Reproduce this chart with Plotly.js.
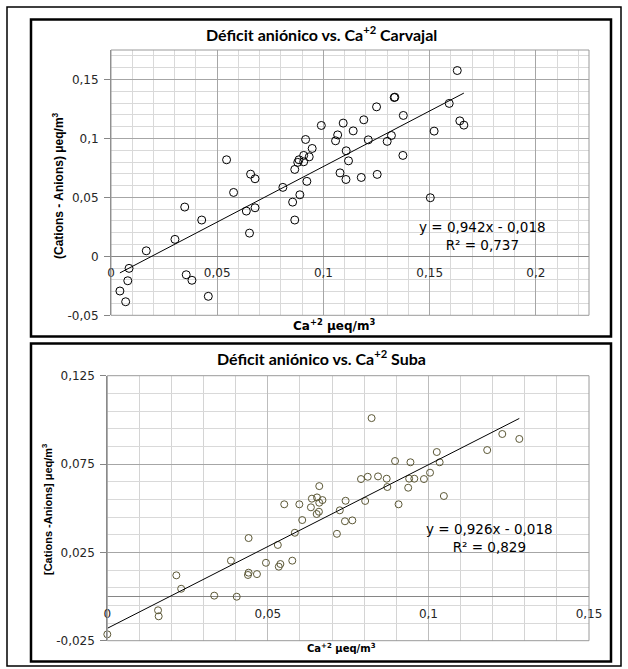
<!DOCTYPE html>
<html>
<head>
<meta charset="utf-8">
<script src="https://cdn.plot.ly/plotly-3.0.1.min.js"></script>
<style>
html,body{margin:0;padding:0;background:#fff;}
#chart{width:628px;height:669px;}
</style>
</head>
<body>
<div id="chart"></div>
<script>
// ---------- DATA: Carvajal ----------
const caCarvajal = [
  0.0544,0.0657,0.0678,0.0577,0.0809,0.0865,0.0855,0.0865,0.0347,0.0427,
  0.0637,0.0678,0.0652,0.0301,0.0166,0.0085,0.0079,0.0042,0.0069,0.0354,
  0.0381,0.0458,
  0.1630,0.1333,0.1336,0.1250,0.1592,0.1376,0.1190,0.1093,0.0990,0.1140,
  0.1067,0.1057,0.0916,0.1211,0.1320,0.1300,0.1642,0.1661,0.1521,0.0947,
  0.0907,0.0933,0.0885,0.0907,0.0879,0.1107,0.1118,0.1374,0.1078,0.1106,
  0.1178,0.1253,0.0922,0.0889,0.1503
];
const defCarvajal = [
  0.0819,0.0697,0.0658,0.0542,0.0585,0.0737,0.0460,0.0308,0.0418,0.0308,
  0.0384,0.0412,0.0197,0.0144,0.0047,-0.0102,-0.0207,-0.0294,-0.0385,-0.0156,
  -0.0203,-0.0339,
  0.1576,0.1347,0.1350,0.1268,0.1297,0.1195,0.1158,0.1130,0.1110,0.1064,
  0.1030,0.0980,0.0991,0.0988,0.1025,0.0975,0.1149,0.1113,0.1062,0.0915,
  0.0856,0.0844,0.0819,0.0802,0.0797,0.0895,0.0810,0.0856,0.0708,0.0652,
  0.0669,0.0695,0.0636,0.0522,0.0497
];
// ---------- DATA: Suba ----------
const caSuba = [
  0.0000,0.0158,0.0160,0.0215,0.0230,0.0333,0.0403,0.0385,0.0440,0.0440,
  0.0438,0.0466,0.0494,0.0531,0.0539,0.0534,0.0576,0.0584,0.0551,0.0598,
  0.0607,
  0.0823,0.1230,0.1183,0.1283,0.1026,0.1035,0.1048,0.0896,0.0944,0.1005,
  0.0986,0.0956,0.0940,0.0937,0.0907,0.0870,0.0872,0.0843,0.0811,0.0790,
  0.0803,0.0742,0.0724,0.0740,0.0763,0.0715,0.0660,0.0637,0.0653,0.0670,
  0.0660,0.0634,0.0659,0.0652
];
const defSuba = [
  -0.0214,-0.0078,-0.0112,0.0120,0.0044,0.0005,-0.0001,0.0203,0.0331,0.0135,
  0.0122,0.0127,0.0191,0.0292,0.0184,0.0169,0.0203,0.0361,0.0522,0.0522,
  0.0433,
  0.1010,0.0920,0.0829,0.0892,0.0818,0.0760,0.0569,0.0767,0.0760,0.0701,
  0.0665,0.0667,0.0667,0.0616,0.0522,0.0667,0.0620,0.0680,0.0678,0.0665,
  0.0541,0.0542,0.0488,0.0426,0.0431,0.0355,0.0625,0.0554,0.0561,0.0546,
  0.0531,0.0505,0.0480,0.0467
];
// ---------- trend lines (as printed on the chart) ----------
const slopeCarvajal = 0.942, interceptCarvajal = -0.018;
const slopeSuba = 0.926, interceptSuba = -0.018;
const eqCarvajal = "y = 0,942x - 0,018", r2Carvajal = "R² = 0,737";
const eqSuba = "y = 0,926x - 0,018", r2Suba = "R² = 0,829";
// ---------- titles & ticks ----------
const title1 = "Déficit aniónico vs. Ca<sup>+2</sup> Carvajal";
const title2 = "Déficit aniónico vs. Ca<sup>+2</sup> Suba";
const xTitle = "Ca<sup>+2</sup> μeq/m<sup>3</sup>";
const yTitle1 = "(Cations - Anions) μeq/m<sup>3</sup>";
const yTitle2 = "[Cations -Anions] μeq/m<sup>3</sup>";
const xTickVals1 = [0, 0.05, 0.1, 0.15, 0.2];
const xTickText1 = ["0", "0,05", "0,1", "0,15", "0,2"];
const yTickVals1 = [-0.05, 0, 0.05, 0.1, 0.15];
const yTickText1 = ["-0,05", "0", "0,05", "0,1", "0,15"];
const xTickVals2 = [0, 0.05, 0.1, 0.15];
const xTickText2 = ["0", "0,05", "0,1", "0,15"];
const yTickVals2 = [-0.025, 0.025, 0.075, 0.125];
const yTickText2 = ["-0,025", "0,025", "0,075", "0,125"];

// ---------- layout helpers ----------
const W = 628, H = 669;
const fx = p => p / W;
const fy = p => 1 - p / H;
const P1 = {l: 111, r: 589, t: 50, b: 315.3};
const P2 = {l: 107.3, r: 589, t: 375.7, b: 640.7};
const xr1 = [0, 0.225], yr1 = [-0.05, 0.175];
const xr2 = [0, 0.15], yr2 = [-0.025, 0.125];
const zeroPos = (P, yr) => {
  const d0 = fy(P.b), d1 = fy(P.t);
  return d0 + (0 - yr[0]) / (yr[1] - yr[0]) * (d1 - d0);
};
const tickFont = {family: "DejaVu Sans, Verdana, sans-serif", size: 12, color: "#262626"};

function trend(xs, m, b) {
  const lo = Math.min(...xs), hi = Math.max(...xs);
  return {x: [lo, hi], y: [m * lo + b, m * hi + b]};
}
const t1 = trend(caCarvajal, slopeCarvajal, interceptCarvajal);
const t2 = trend(caSuba, slopeSuba, interceptSuba);

const traces = [
  {x: caCarvajal, y: defCarvajal, type: "scatter", mode: "markers", xaxis: "x", yaxis: "y",
   cliponaxis: false,
   marker: {symbol: "circle-open", size: 8, color: "#000", line: {width: 1, color: "#000"}}},
  {x: t1.x, y: t1.y, type: "scatter", mode: "lines", xaxis: "x", yaxis: "y",
   line: {color: "#000", width: 1}},
  {x: caSuba, y: defSuba, type: "scatter", mode: "markers", xaxis: "x2", yaxis: "y2",
   cliponaxis: false,
   marker: {symbol: "circle-open", size: 7, color: "#5c5836", line: {width: 1, color: "#5c5836"}}},
  {x: t2.x, y: t2.y, type: "scatter", mode: "lines", xaxis: "x2", yaxis: "y2",
   line: {color: "#000", width: 1}}
];

function xAxis(P, xr, yr, vals, txt, majorColor, minorColor) {
  return {
    domain: [fx(P.l), fx(P.r)], range: xr, anchor: "free", position: zeroPos(P, yr),
    tickmode: "array", tickvals: vals, ticktext: txt, ticks: "", showline: false,
    zeroline: false, showgrid: true, gridcolor: majorColor, gridwidth: 1,
    minor: {tick0: 0, dtick: 0.01, showgrid: true, gridcolor: minorColor, gridwidth: 1},
    tickfont: tickFont, ticklabelstandoff: 8, fixedrange: true
  };
}
function yAxis(P, yr, xname, vals, txt, minorTick0) {
  return {
    domain: [fy(P.b), fy(P.t)], range: yr, anchor: xname,
    tickmode: "array", tickvals: vals, ticktext: txt,
    ticks: "outside", ticklen: 6, tickcolor: "#868686", tickwidth: 1,
    showline: true, linecolor: "#868686", linewidth: 1,
    zeroline: true, zerolinecolor: "#868686", zerolinewidth: 1,
    showgrid: true, gridcolor: "#a6a6a6", gridwidth: 1,
    minor: {tick0: minorTick0, dtick: 0.01, showgrid: true, gridcolor: "#d9d9d9", gridwidth: 1},
    tickfont: tickFont, ticklabelstandoff: 3, fixedrange: true
  };
}

const rectPx = (x0, y0, x1, y1, color, width) => ({
  type: "rect", xref: "paper", yref: "paper",
  x0: fx(x0), x1: fx(x1), y0: fy(y1), y1: fy(y0),
  line: {color: color, width: width}, fillcolor: "rgba(0,0,0,0)", layer: "above"
});

const ann = (x, y, text, font, extra) => Object.assign({
  xref: "paper", yref: "paper", x: fx(x), y: fy(y), text: text, showarrow: false,
  xanchor: "center", yanchor: "middle", font: font
}, extra || {});

const titleFont = {family: "Lato, Open Sans, sans-serif", size: 16, color: "#000"};
const eqFont = {family: "DejaVu Sans, Verdana, sans-serif", size: 13.5, color: "#000"};
const ytFont1 = {family: "Liberation Sans Narrow, Arial Narrow, Liberation Sans, sans-serif", size: 12, color: "#000"};
const ytFont2 = {family: "Liberation Sans Narrow, Arial Narrow, Liberation Sans, sans-serif", size: 11, color: "#000"};

const layout = {
  width: W, height: H, margin: {l: 0, r: 0, t: 0, b: 0, pad: 0},
  paper_bgcolor: "#fff", plot_bgcolor: "#fff", showlegend: false,
  separators: ",.",
  xaxis: xAxis(P1, xr1, yr1, xTickVals1, xTickText1, "#a6a6a6", "#d9d9d9"),
  yaxis: yAxis(P1, yr1, "x", yTickVals1, yTickText1, -0.05),
  xaxis2: xAxis(P2, xr2, yr2, xTickVals2, xTickText2, "#bdbdbd", "#d4d4d4"),
  yaxis2: yAxis(P2, yr2, "x2", yTickVals2, yTickText2, -0.025),
  shapes: [
    rectPx(7, 7, 621, 666, "#000", 1.5),
    rectPx(31, 19.5, 611, 336.5, "#000", 2.5),
    rectPx(31, 343.5, 611, 661.5, "#000", 2.5),
    rectPx(P1.l, P1.t, P1.r, P1.b, "#9a9a9a", 1),
    rectPx(P2.l, P2.t, P2.r, P2.b, "#9a9a9a", 1)
  ],
  annotations: [
    ann(321, 33, "<b>" + title1 + "</b>", titleFont),
    ann(321, 357, "<b>" + title2 + "</b>", titleFont),
    ann(334, 325, "<b>" + xTitle + "</b>", {family: "DejaVu Sans, Verdana, sans-serif", size: 12, color: "#000"}),
    ann(341, 648, "<b>" + xTitle + "</b>", {family: "DejaVu Sans, Verdana, sans-serif", size: 10, color: "#000"}),
    ann(58, 185, "<b>" + yTitle1 + "</b>", ytFont1, {textangle: -90}),
    ann(47, 510, "<b>" + yTitle2 + "</b>", ytFont2, {textangle: -90}),
    ann(482, 236, eqCarvajal + "<br>" + r2Carvajal, eqFont, {align: "center"}),
    ann(489.5, 538, eqSuba + "<br>" + r2Suba, eqFont, {align: "center"})
  ]
};

Plotly.newPlot("chart", traces, layout, {staticPlot: true, displayModeBar: false});
</script>
</body>
</html>
